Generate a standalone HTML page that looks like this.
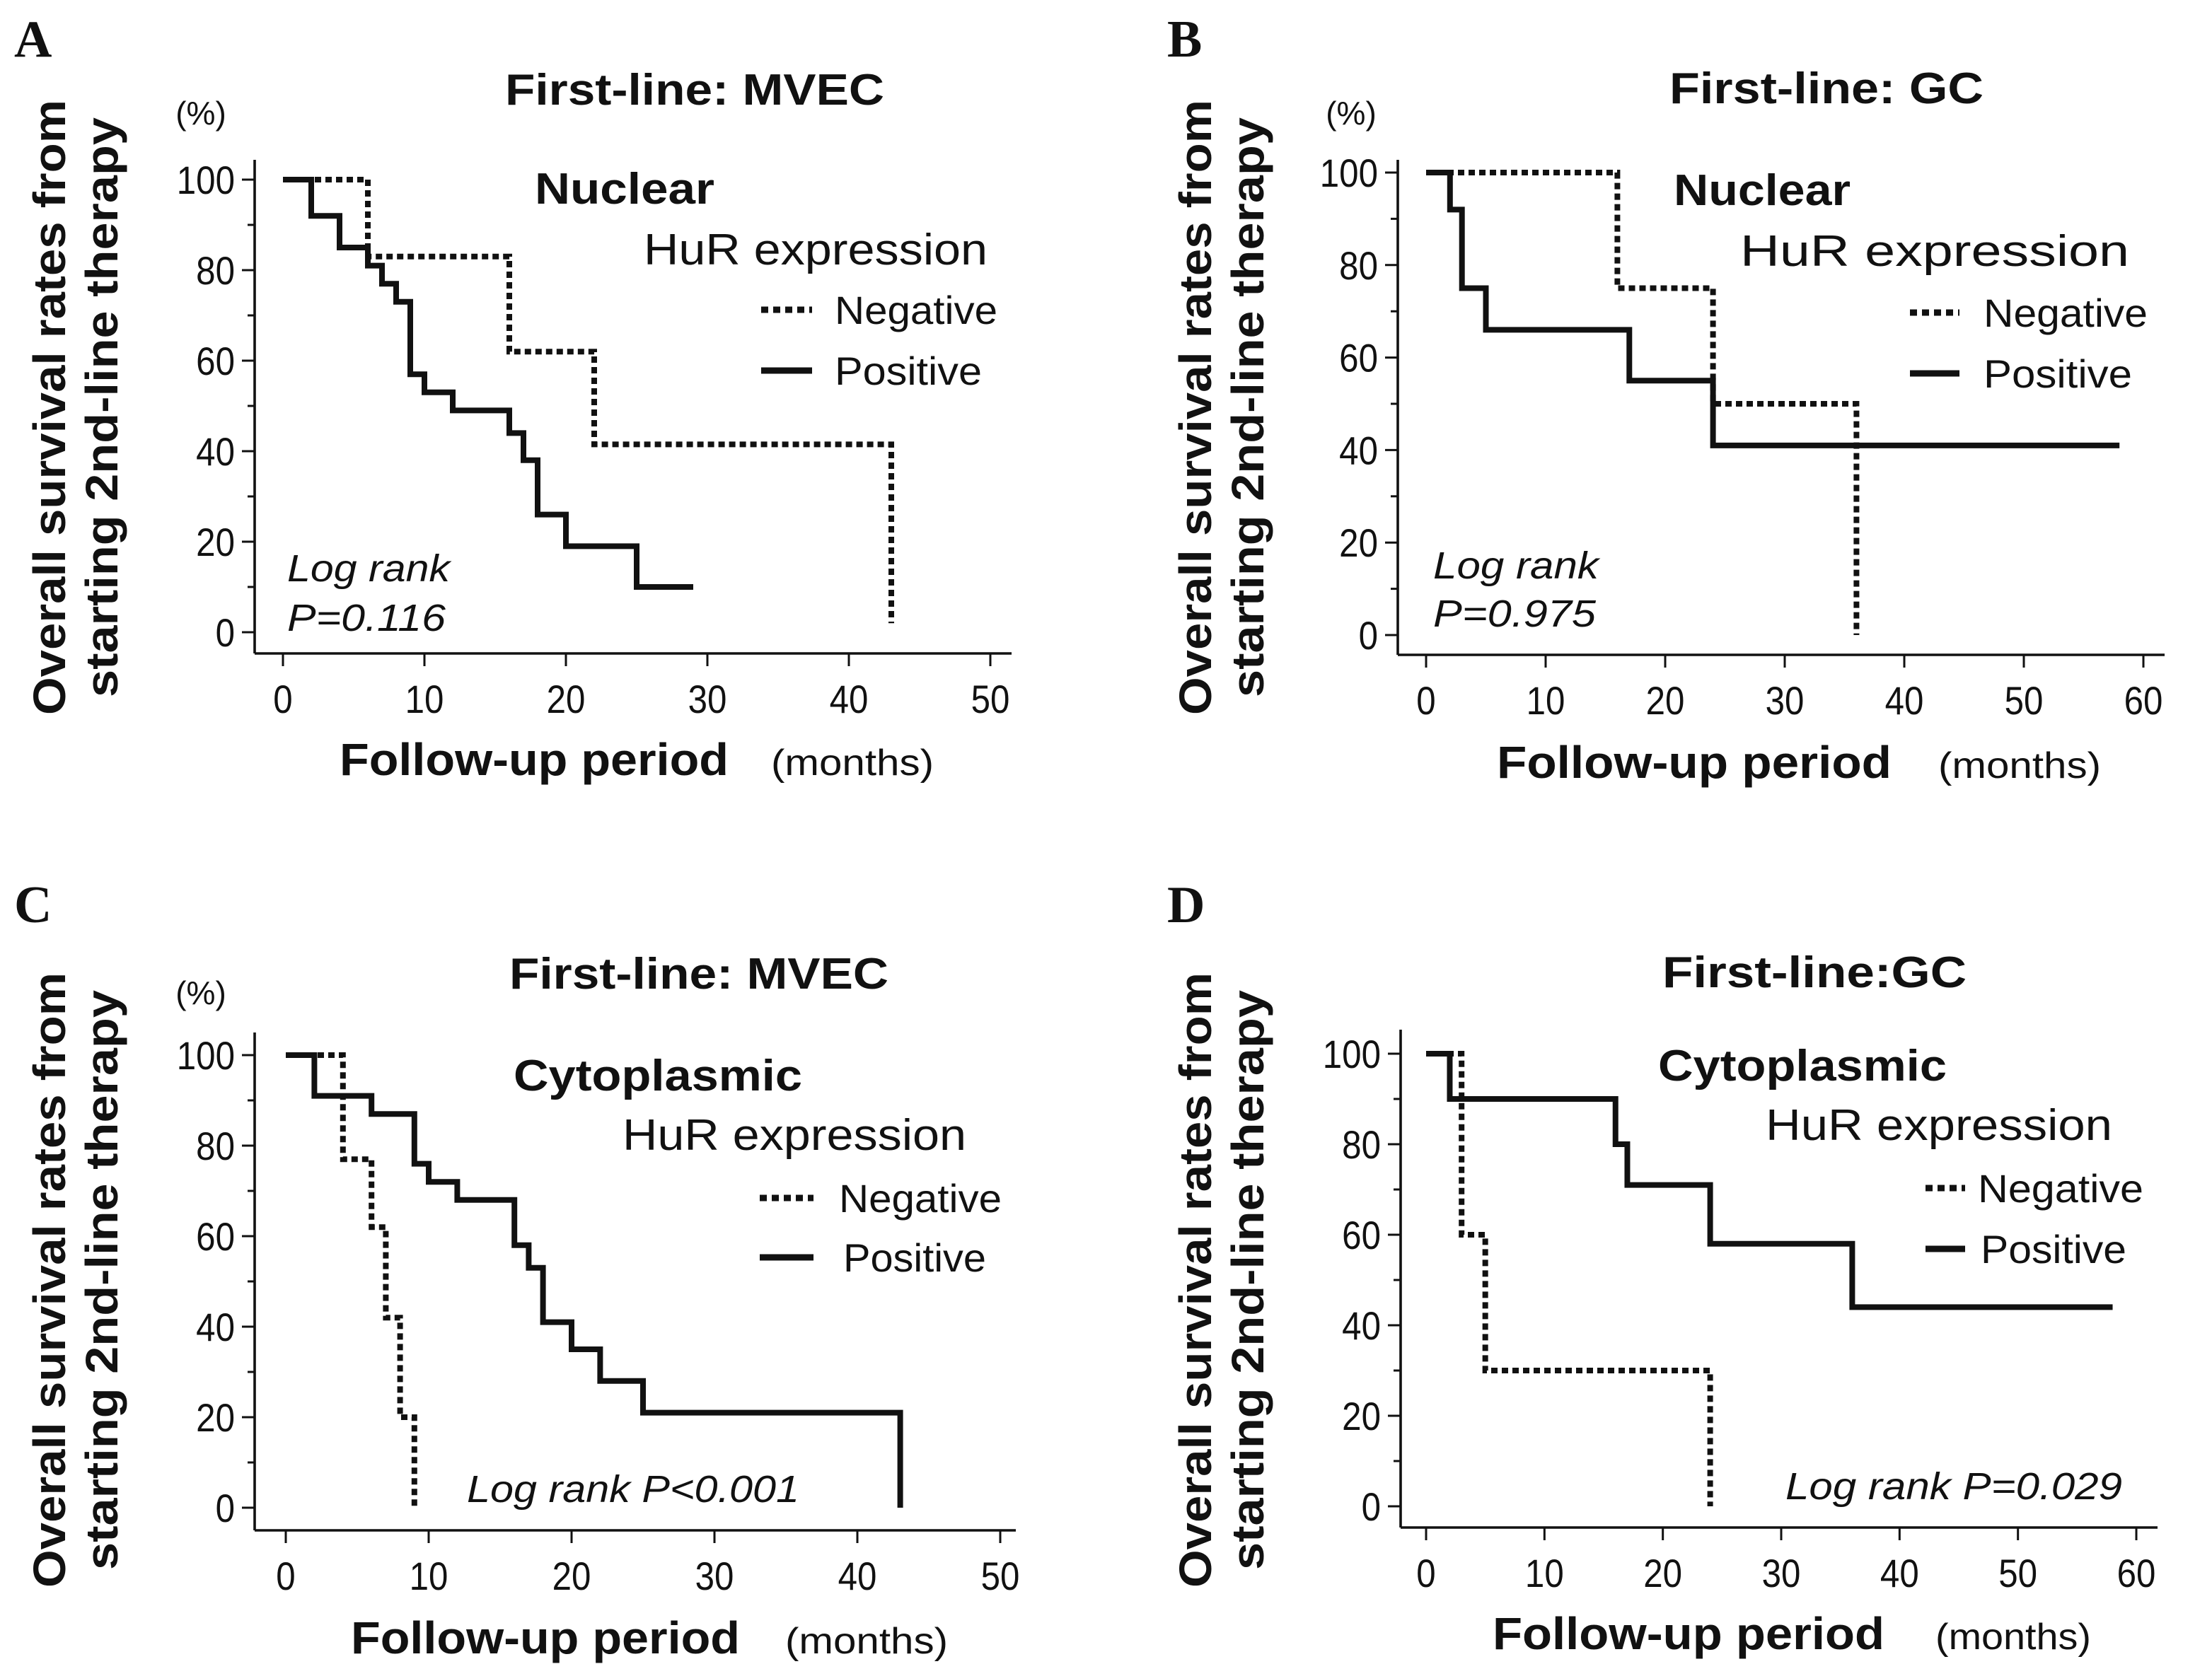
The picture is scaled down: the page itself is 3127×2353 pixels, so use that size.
<!DOCTYPE html>
<html><head><meta charset="utf-8"><style>
html,body{margin:0;padding:0;background:#fff}
svg{display:block}
text{font-family:"Liberation Sans",Arial,sans-serif;fill:#111}
</style></head><body>
<svg id="fig" width="3127" height="2353" viewBox="0 0 1563.5 1176.5" preserveAspectRatio="none" xmlns="http://www.w3.org/2000/svg"></svg>
<script>
// ---- data (months, survival %) ----
const aNegT=[0,6,16,22,43];const aNegV=[100,83,62,41.5,2];const aNegEnd=43;
const aPosT=[0,2,4,6,7,8,9,10,12,16,17,18,20,25];const aPosV=[100,92,85,81,77,73,57,53,49,44,38,26,19,10];const aPosEnd=29;
const bNegT=[0,16,24,36];const bNegV=[100,75,50,0];const bNegEnd=36;
const bPosT=[0,2,3,5,17,24];const bPosV=[100,92,75,66,55,41];const bPosEnd=58;
const cNegT=[0,4,6,7,8,9];const cNegV=[100,77,62,42,20,0];const cNegEnd=9;
const cPosT=[0,2,6,9,10,12,16,17,18,20,22,25,43];const cPosV=[100,91,87,76,72,68,58,53,41,35,28,21,0];const cPosEnd=43;
const dNegT=[0,3,5,24];const dNegV=[100,60,30,0];const dNegEnd=24;
const dPosT=[0,2,16,17,24,36];const dPosV=[100,90,80,71,58,44];const dPosEnd=58;
const yTicks=[0,20,40,60,80,100];
const xTicks50=[0,10,20,30,40,50];
const xTicks60=[0,10,20,30,40,50,60];

const NS="http://www.w3.org/2000/svg";
const svg=document.getElementById('fig');
function mk(tag,attrs,parent,txt){const e=document.createElementNS(NS,tag);for(const k in attrs)e.setAttribute(k,attrs[k]);if(txt!==undefined)e.textContent=txt;(parent||svg).appendChild(e);return e;}
function fit(x,w){return {x:x,textLength:w,lengthAdjust:'spacingAndGlyphs'};}

const panels=[
 {id:'a',letter:'A',lx:10,ly:40,title:'First-line: MVEC',ttl:[357,268],ty:74,pct:[142,88],axX:180,axTop:113,axBot:462,axR:715,x0:200,x1:700,xmax:50,y100:127,y0:447,
  ticks:xTicks50,kind:'Nuclear',kw:[378,127],ky:144,hw:[455,243],hy:187,nx:538,nlen:36,ny:219,py:262,negw:[590,115],posw:[590,104],
  log:[['Log rank',203,115,411],['P=0.116',203,112,446]],ftw:[240,275],fty:548,mw:[545,115],neg:[aNegT,aNegV,aNegEnd],pos:[aPosT,aPosV,aPosEnd],yt:[35,72],ytc:288,ytl:[435,410]},
 {id:'b',letter:'B',lx:825,ly:40,title:'First-line: GC',ttl:[1180,222],ty:73,pct:[955,88],axX:988,axTop:113,axBot:463,axR:1530,x0:1008,x1:1515,xmax:60,y100:122,y0:449,
  ticks:xTicks60,kind:'Nuclear',kw:[1183,125],ky:145,hw:[1230,275],hy:188,nx:1350,nlen:35,ny:221,py:264,negw:[1402,116],posw:[1402,105],
  log:[['Log rank',1013,117,409],['P=0.975',1013,115,443]],ftw:[1058,279],fty:550,mw:[1370,115],neg:[bNegT,bNegV,bNegEnd],pos:[bPosT,bPosV,bPosEnd],yt:[845,882],ytc:288,ytl:[435,410]},
 {id:'c',letter:'C',lx:10,ly:652,title:'First-line: MVEC',ttl:[360,268],ty:699,pct:[142,710],axX:180,axTop:730,axBot:1082,axR:718,x0:202,x1:707,xmax:50,y100:746,y0:1066,
  ticks:xTicks50,kind:'Cytoplasmic',kw:[363,204],ky:771,hw:[440,243],hy:813,nx:537,nlen:38,ny:847,py:889,negw:[593,115],posw:[596,101],
  log:[['Log rank P<0.001',330,235,1062]],ftw:[248,275],fty:1169,mw:[555,115],neg:[cNegT,cNegV,cNegEnd],pos:[cPosT,cPosV,cPosEnd],yt:[35,72],ytc:905,ytl:[435,410]},
 {id:'d',letter:'D',lx:825,ly:652,title:'First-line:GC',ttl:[1175,215],ty:698,pct:null,axX:990,axTop:728,axBot:1080,axR:1525,x0:1008,x1:1510,xmax:60,y100:745,y0:1065,
  ticks:xTicks60,kind:'Cytoplasmic',kw:[1172,204],ky:764,hw:[1248,245],hy:806,nx:1361,nlen:28,ny:840,py:883,negw:[1398,117],posw:[1400,103],
  log:[['Log rank P=0.029',1262,238,1060]],ftw:[1055,277],fty:1166,mw:[1368,110],neg:[dNegT,dNegV,dNegEnd],pos:[dPosT,dPosV,dPosEnd],yt:[845,882],ytc:905,ytl:[435,410]}
];

panels.forEach(p=>{
  const g=mk('g',{});
  
  
  const sx=v=>p.x0+(p.x1-p.x0)*v/p.xmax;
  const sy=v=>p.y0+(p.y100-p.y0)*v/100;
  let e;
  e=mk('text',{x:p.lx,y:p.ly,'font-size':37,'font-weight':'bold',style:'font-family:"Liberation Serif",serif'},g,p.letter);
  
  e=mk('text',Object.assign(fit(p.ttl[0],p.ttl[1]),{y:p.ty,'font-size':31,'font-weight':'bold'}),g,p.title);
  
  if(p.pct){e=mk('text',{x:p.pct[0],y:p.pct[1],'font-size':23,'text-anchor':'middle'},g,'(%)');
   }
  e=mk('text',{transform:`translate(${p.yt[0]+11},${p.ytc}) rotate(-90)`,'font-size':32,'font-weight':'bold','text-anchor':'middle',textLength:p.ytl[0],lengthAdjust:'spacingAndGlyphs'},g,'Overall survival rates from');
  
  e=mk('text',{transform:`translate(${p.yt[1]+11},${p.ytc}) rotate(-90)`,'font-size':32,'font-weight':'bold','text-anchor':'middle',textLength:p.ytl[1],lengthAdjust:'spacingAndGlyphs'},g,'starting 2nd-line therapy');
  
  e=mk('line',{x1:p.axX,y1:p.axTop,x2:p.axX,y2:p.axBot,stroke:'#111','stroke-width':1.8},g);
  
  e=mk('line',{x1:p.axX,y1:p.axBot,x2:p.axR,y2:p.axBot,stroke:'#111','stroke-width':1.8},g);
  
  for(let v=0;v<=100;v+=10){
    const major=v%20===0;
    e=mk('line',{x1:p.axX-(major?9:5),y1:sy(v),x2:p.axX,y2:sy(v),stroke:'#111','stroke-width':1.5},g);
    
  }
  yTicks.forEach(v=>{
    e=mk('text',{x:p.axX-14,y:sy(v)+10,'font-size':28,'text-anchor':'end',transform:`translate(${p.axX-14},0) scale(0.88,1) translate(${-(p.axX-14)},0)`},g,String(v));
    
  });
  p.ticks.forEach(v=>{
    e=mk('line',{x1:sx(v),y1:p.axBot,x2:sx(v),y2:p.axBot+9,stroke:'#111','stroke-width':1.5},g);
    
    e=mk('text',{x:sx(v),y:p.axBot+42,'font-size':28,'text-anchor':'middle',transform:`translate(${sx(v)},0) scale(0.88,1) translate(${-sx(v)},0)`},g,String(v));
    
  });
  e=mk('text',Object.assign(fit(p.ftw[0],p.ftw[1]),{y:p.fty,'font-size':32,'font-weight':'bold'}),g,'Follow-up period');
  
  e=mk('text',Object.assign(fit(p.mw[0],p.mw[1]),{y:p.fty,'font-size':26}),g,'(months)');
  
  function curve(T,V,end,dashed,name){
    let d=`M${sx(T[0])},${sy(V[0])}`;
    for(let i=1;i<T.length;i++){d+=` H${sx(T[i])} V${sy(V[i])}`;}
    d+=` H${sx(end)}`;
    const a={d:d,fill:'none',stroke:'#111','stroke-width':4};
    if(dashed)a['stroke-dasharray']='4.5 3';
    const c=mk('path',a,g);
    
    
  }
  curve(p.neg[0],p.neg[1],p.neg[2],true,'negative-curve');
  curve(p.pos[0],p.pos[1],p.pos[2],false,'positive-curve');
  e=mk('text',Object.assign(fit(p.kw[0],p.kw[1]),{y:p.ky,'font-size':31,'font-weight':'bold'}),g,p.kind);
  
  e=mk('text',Object.assign(fit(p.hw[0],p.hw[1]),{y:p.hy,'font-size':31}),g,'HuR expression');
  
  e=mk('line',{x1:p.nx,y1:p.ny,x2:p.nx+p.nlen,y2:p.ny,stroke:'#111','stroke-width':4.5,'stroke-dasharray':'5 3.5'},g);
  
  e=mk('text',Object.assign(fit(p.negw[0],p.negw[1]),{y:p.ny+10,'font-size':28}),g,'Negative');
  
  e=mk('line',{x1:p.nx,y1:p.py,x2:p.nx+p.nlen,y2:p.py,stroke:'#111','stroke-width':4.5},g);
  
  e=mk('text',Object.assign(fit(p.posw[0],p.posw[1]),{y:p.py+10,'font-size':28}),g,'Positive');
  
  p.log.forEach(l=>{
    e=mk('text',Object.assign(fit(l[1],l[2]),{y:l[3],'font-size':27,'font-style':'italic'}),g,l[0]);
    
  });
});
</script>
</body></html>
